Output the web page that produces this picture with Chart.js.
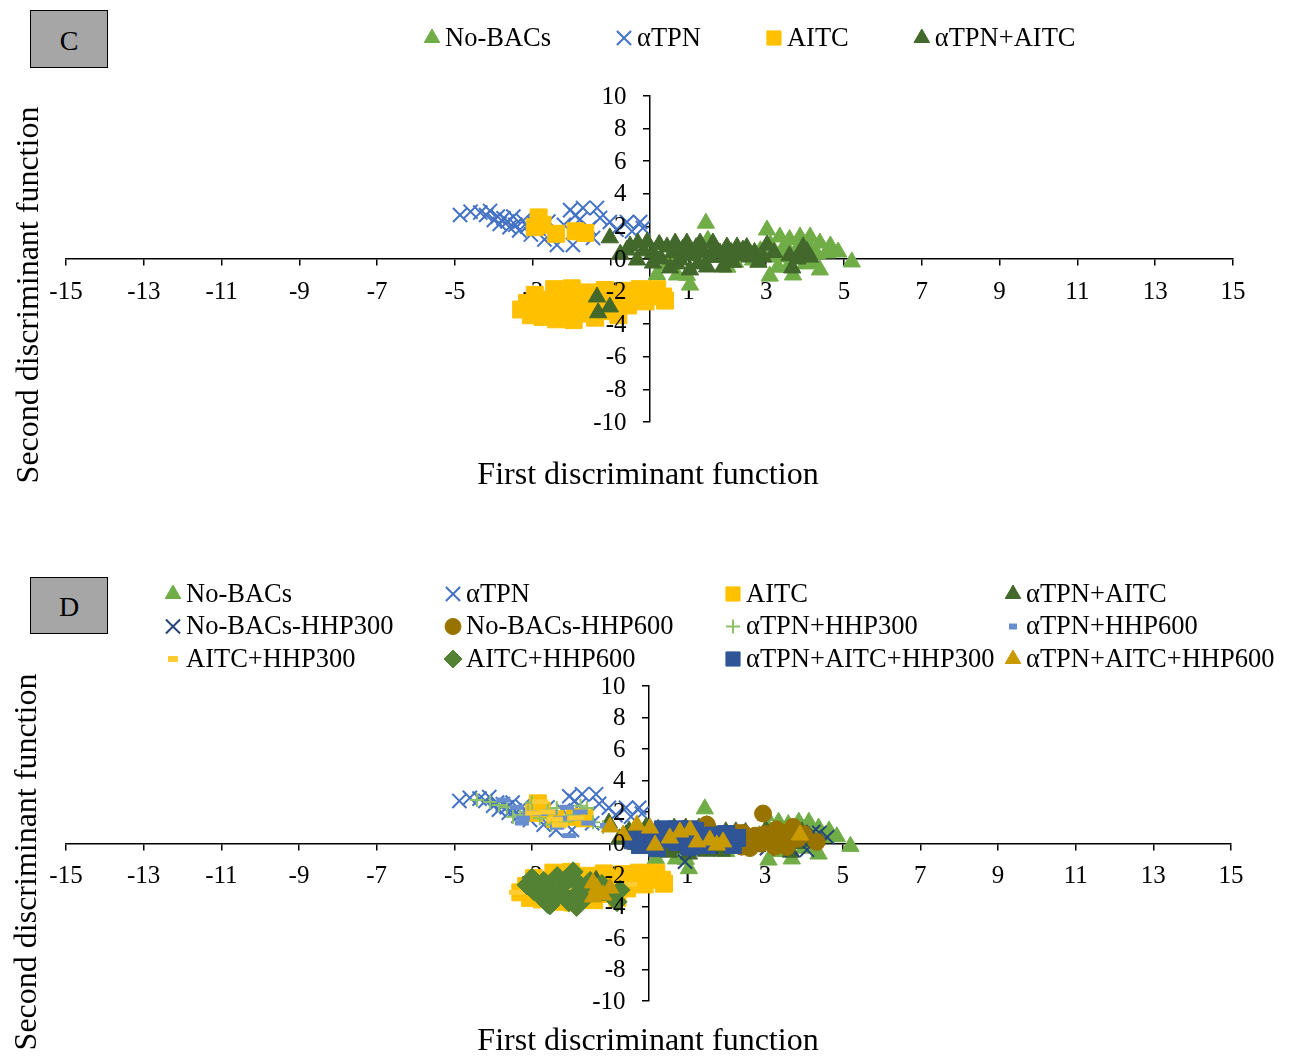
<!DOCTYPE html>
<html>
<head>
<meta charset="utf-8">
<script src="https://cdn.jsdelivr.net/npm/chart.js"></script>
<style>
  body { margin: 0; background: #fff; }
  .wrap { position: relative; width: 1293px; height: 1057px; }
  canvas { position: absolute; left: 0; }
  .tag {
    position: absolute; background: #a6a6a6; border: 1px solid #000;
    font: 28px "Liberation Serif", "Times New Roman", serif;
    display: flex; align-items: center; justify-content: center; box-sizing: border-box;
    padding-top: 3px;
  }
</style>
</head>
<body>
<div class="wrap">
  <canvas id="chartC" width="1293" height="528" style="top:0"></canvas>
  <canvas id="chartD" width="1293" height="529" style="top:528px"></canvas>
  <div class="tag" style="left:30px;top:10px;width:78px;height:58px">C</div>
  <div class="tag" style="left:30px;top:577px;width:78px;height:57px">D</div>
</div>
<script>
const SERIF = '"Liberation Serif", "Times New Roman", serif';

// axis ticks
const xTicks = [-15, -13, -11, -9, -7, -5, -3, -1, 1, 3, 5, 7, 9, 11, 13, 15];
const yTicks = [-10, -8, -6, -4, -2, 0, 2, 4, 6, 8, 10];

// discriminant scores: [first function, second function]
const noBacs = [
  [0.19, -0.95], [0.45, -0.4], [0.71, -0.98], [0.96, -1.0], [1.04, -1.6], [1.2, 0.3], [1.45, 2.2],
  [1.5, 1.15], [1.7, 0.5], [1.99, 0.25], [2.2, -0.2], [2.4, 0.4], [2.66, -0.06], [2.85, 0.5],
  [3.02, 1.78], [3.09, -1.05], [3.15, 0.6], [3.28, 0.12], [3.35, 1.35], [3.5, 0.8], [3.56, -0.49],
  [3.69, -0.98], [3.75, 0.4], [3.87, 1.35], [3.95, 0.1], [4.1, 0.8], [4.13, 1.35], [4.2, -0.25],
  [4.38, 0.98], [4.38, -0.67], [4.56, 0.37], [4.85, 0.43], [5.2, -0.18], [2.0, -0.5], [0.6, 0.2],
  [3.3, -0.5], [4.0, -0.3], [3.4, 0.5], [3.6, 1.2], [3.8, 0.6], [4.3, 0.3], [4.65, 0.8],
  [4.0, 0.9], [2.6, 0.3], [3.1, 0.9], [1.3, 0.6], [0.9, 0.3]
];
const aTpn = [
  [-4.87, 2.7], [-4.6, 2.9], [-4.35, 2.85], [-4.2, 2.7], [-4.1, 2.95], [-4.0, 2.4], [-3.9, 2.6],
  [-3.85, 2.15], [-3.75, 2.5], [-3.65, 2.3], [-3.6, 1.95], [-3.5, 2.6], [-3.45, 2.1], [-3.35, 1.75],
  [-3.25, 2.35], [-3.15, 2.0], [-3.05, 1.5], [-2.95, 2.2], [-2.85, 1.85], [-2.7, 1.2], [-2.6, 2.3],
  [-2.45, 1.6], [-2.38, 0.86], [-2.2, 2.1], [-2.04, 3.0], [-1.97, 0.86], [-1.9, 2.7], [-1.8, 2.4],
  [-1.71, 3.13], [-1.65, 1.65], [-1.55, 1.9], [-1.45, 1.29], [-1.35, 3.13], [-1.27, 2.52],
  [-1.02, 2.27], [-0.85, 1.8], [-0.58, 2.27], [-0.45, 1.7], [-0.24, 2.27], [-0.17, 1.9]
];
const aitc = [
  [-2.85, 2.55], [-2.95, 1.95], [-2.75, 2.1], [-2.4, 1.55], [-1.9, 1.7], [-1.65, 1.6],
  [-3.3, -3.1], [-3.15, -2.7], [-3.05, -3.45], [-2.95, -2.2], [-2.85, -2.9], [-2.75, -3.55],
  [-2.65, -2.5], [-2.55, -3.1], [-2.45, -1.85], [-2.4, -3.7], [-2.3, -2.75], [-2.2, -2.2],
  [-2.1, -3.25], [-2.0, -1.8], [-1.95, -3.75], [-1.85, -2.6], [-1.75, -3.35], [-1.6, -2.05],
  [-1.5, -3.0], [-1.4, -3.6], [-1.3, -2.45], [-1.15, -1.9], [-1.1, -3.2], [-0.95, -2.7],
  [-0.85, -2.15], [-0.8, -3.45], [-0.65, -1.95], [-0.55, -2.85], [-0.4, -2.35], [-0.25, -1.85],
  [-0.1, -2.6], [0.05, -2.1], [0.2, -1.85], [0.35, -2.3], [0.4, -2.55], [-2.9, -2.6],
  [-1.2, -2.9], [-2.6, -3.4]
];
const aTpnAitc = [
  [-1.02, 1.3], [-0.58, 0.55], [-0.32, -0.06], [-0.3, 0.98], [-0.06, 1.04], [0.09, 0.37],
  [0.09, -0.25], [0.45, 0.74], [0.53, -0.55], [0.66, 0.98], [0.78, -0.06], [0.96, 0.98],
  [1.04, -0.67], [1.12, 0.37], [1.3, 0.98], [1.48, -0.49], [1.63, 0.98], [1.81, 0.37],
  [1.89, -0.49], [1.99, 0.74], [2.25, 0.74], [2.4, 0.55], [2.58, 0.12], [2.92, 0.12],
  [3.02, 0.86], [3.67, -0.55], [3.87, 0.37], [3.95, 0.74], [4.13, 0.12],
  [-0.75, 0.3], [-0.5, 0.8], [-0.15, 0.5], [0.25, 0.9], [0.3, 0.0], [0.6, 0.4], [0.85, 0.6],
  [1.0, 0.2], [1.2, 0.7], [1.4, 0.4], [1.55, 0.1], [1.7, 0.6], [1.95, 0.1], [2.1, 0.4],
  [2.3, 0.2], [2.5, 0.7], [2.7, 0.4], [2.8, -0.2], [3.2, 0.4], [3.8, 0.0], [4.05, 0.45],
  [3.6, 0.2], [0.7, -0.3], [1.25, -0.3], [2.15, -0.2],
  [-1.35, -2.33], [-1.02, -2.94], [-1.32, -3.3]
];
const noBacsHhp300 = [
  [0.94, -1.15], [1.6, -0.2], [2.3, -0.1], [2.7, 0.2], [3.05, -0.3], [3.5, 0.1], [3.7, -0.4],
  [3.9, 0.3], [4.08, -0.4], [4.24, 0.73], [4.4, 0.67], [4.6, 0.4]
];
const noBacsHhp600 = [
  [2.95, 1.9], [4.33, 0.1], [1.5, 1.2], [2.28, 0.67], [2.43, 0.67], [2.4, -0.2], [2.61, -0.29],
  [2.75, 0.5], [2.9, 0.0], [3.1, 0.3], [3.25, -0.2], [3.39, 0.41], [3.56, -0.22], [3.72, 1.05],
  [3.85, 0.3], [4.0, 0.6], [3.3, 0.9], [1.9, 0.4], [1.2, 0.3], [0.5, 0.5], [2.6, 0.2],
  [3.0, 0.6], [3.5, 0.6], [2.2, 0.0]
];
const aTpnHhp300 = [
  [-4.42, 2.76], [-4.08, 2.63], [-3.85, 2.45], [-3.65, 2.3], [-3.49, 1.7], [-3.31, 1.8],
  [-3.1, 2.0], [-3.0, 2.6], [-2.8, 1.6], [-2.6, 2.1], [-2.5, 1.2], [-2.36, 2.25], [-2.15, 1.4],
  [-1.94, 1.8], [-1.75, 2.4], [-1.58, 2.25], [-1.43, 1.35], [-1.17, 1.05]
];
const aTpnHhp600 = [
  [-3.74, 2.76], [-3.39, 2.3], [-3.26, 1.3], [-3.23, 1.6], [-3.05, 1.95], [-2.8, 1.9],
  [-2.54, 2.0], [-2.36, 1.03], [-2.28, 1.6], [-2.1, 2.3], [-2.04, 0.5], [-1.84, 1.6],
  [-1.76, 2.0], [-1.55, 1.3], [-1.07, 1.15]
];
const aitcHhp300 = [
  [-2.79, 2.65], [-2.97, 1.94], [-2.6, 2.0], [-2.41, 1.55], [-2.28, 1.17], [-1.85, 1.62],
  [-3.39, -3.1], [-2.9, -2.3], [-2.0, -3.0], [-0.5, -2.6]
];
const aitcHhp600 = [
  [-3.13, -2.63], [-3.0, -2.2], [-2.95, -3.0], [-2.8, -3.3], [-2.7, -2.4], [-2.6, -3.8],
  [-2.55, -2.9], [-2.54, -3.9], [-2.45, -3.6], [-2.35, -2.1], [-2.25, -3.1], [-2.15, -2.5],
  [-2.05, -3.7], [-1.94, -1.8], [-1.95, -2.2], [-1.85, -3.2], [-1.85, -4.0], [-1.75, -2.7],
  [-1.65, -3.5], [-1.5, -2.4], [-1.35, -3.0], [-1.2, -2.6], [-1.0, -3.2], [-0.81, -3.7],
  [-0.73, -2.95]
];
const aTpnAitcHhp300 = [
  [-0.4, 0.2], [-0.22, -0.1], [-0.1, 0.5], [0.1, 0.0], [0.22, -0.29], [0.37, 0.9], [0.4, 0.3],
  [0.73, 0.9], [0.75, 0.1], [0.9, 0.6], [1.05, -0.2], [1.07, 0.9], [1.2, 0.8], [1.35, 0.3],
  [1.5, -0.1], [1.65, 0.5], [1.8, 0.2], [2.0, 0.6], [2.17, -0.1], [2.28, 0.35]
];
const aTpnAitcHhp600 = [
  [-0.99, 1.05], [-0.65, 0.54], [-0.3, 1.17], [0.04, 0.98], [0.17, -0.1], [0.55, 0.35],
  [0.81, 0.73], [1.07, 0.86], [1.25, 0.1], [1.58, 0.22], [1.76, -0.1], [1.92, 0.1], [3.9, 0.54],
  [-1.43, -2.5], [-1.33, -2.83], [-0.99, -2.83], [-1.17, -3.27], [-1.43, -3.4]
];

// marker look of each treatment
const series = [
  { label: 'No-BACs', data: noBacs, style: 'triangle', color: '#70ad47', r: 10, bw: 1, lr: 9 },
  { label: 'αTPN', data: aTpn, style: 'crossRot', color: '#4472c4', r: 10, bw: 2, lr: 10 },
  { label: 'AITC', data: aitc, style: 'rect', color: '#ffc000', r: 12, bw: 1, lr: 10 },
  { label: 'αTPN+AITC', data: aTpnAitc, style: 'triangle', color: '#43682b', r: 10, bw: 1, lr: 9 },
  { label: 'No-BACs-HHP300', data: noBacsHhp300, style: 'crossRot', color: '#264478', r: 10, bw: 2, lr: 10 },
  { label: 'No-BACs-HHP600', data: noBacsHhp600, style: 'circle', color: '#997300', r: 8.5, bw: 1, lr: 8 },
  { label: 'αTPN+HHP300', data: aTpnHhp300, style: 'cross', color: '#8cc168', r: 7, bw: 2, lr: 7 },
  { label: 'αTPN+HHP600', data: aTpnHhp600, style: 'line', color: '#698ed0', r: 7, bw: 5, lr: 4 },
  { label: 'AITC+HHP300', data: aitcHhp300, style: 'line', color: '#ffcd33', r: 8, bw: 5, lr: 5 },
  { label: 'AITC+HHP600', data: aitcHhp600, style: 'rectRot', color: '#548235', r: 10, bw: 1, lr: 9 },
  { label: 'αTPN+AITC+HHP300', data: aTpnAitcHhp300, style: 'rect', color: '#2f5597', r: 12, bw: 1, lr: 10 },
  { label: 'αTPN+AITC+HHP600', data: aTpnAitcHhp600, style: 'triangle', color: '#c99a00', r: 10, bw: 1, lr: 9 }
];

function toDatasets(list) {
  return list.map((s, i) => ({
    label: s.label,
    data: s.data.map(p => ({ x: p[0], y: p[1] })),
    pointStyle: s.style,
    pointRadius: s.r,
    pointHoverRadius: s.r,
    pointBorderWidth: s.bw,
    backgroundColor: s.color,
    borderColor: s.color,
    showLine: false,
    order: -i   // later series on top
  }));
}

// y tick labels, axis titles and legend rows drawn straight on the canvas
const panelText = {
  id: 'panelText',
  afterDraw(chart, args, o) {
    const ctx = chart.ctx;
    const xs = chart.scales.x, ys = chart.scales.y;
    ctx.save();
    ctx.fillStyle = '#000';

    // labels of the centred y axis sit left of its tick marks
    ctx.font = '25px ' + SERIF;
    ctx.textAlign = 'right';
    ctx.textBaseline = 'middle';
    const x0 = xs.getPixelForValue(0);
    yTicks.forEach(v => ctx.fillText(String(v), x0 - 23, ys.getPixelForValue(v) + 1));

    ctx.font = '32px ' + SERIF;
    ctx.textAlign = 'center';
    ctx.fillText('First discriminant function', o.xTitle[0], o.xTitle[1]);
    ctx.save();
    ctx.translate(o.yTitle[0], o.yTitle[1]);
    ctx.rotate(-Math.PI / 2);
    ctx.fillText('Second discriminant function', 0, 0);
    ctx.restore();

    ctx.font = '26.5px ' + SERIF;
    ctx.textAlign = 'left';
    let px = o.legend.x;
    o.items.forEach((s, i) => {
      let x, y;
      if (o.legend.cols) {
        x = o.legend.x + (i % o.legend.cols) * o.legend.colStep;
        y = o.legend.y + Math.floor(i / o.legend.cols) * o.legend.rowStep;
      } else {
        x = px;
        y = o.legend.y;
      }
      ctx.fillStyle = s.color;
      ctx.strokeStyle = s.color;
      ctx.lineWidth = s.style === 'line' ? 6 : s.bw;
      Chart.helpers.drawPoint(ctx, { pointStyle: s.style, radius: s.lr, borderWidth: ctx.lineWidth, rotation: 0 }, x + 8, y);
      ctx.fillStyle = '#000';
      ctx.fillText(s.label, x + 21, y + 1);
      px = x + 21 + ctx.measureText(s.label).width + 65;
    });
    ctx.restore();
  }
};

function axes() {
  const tickFont = { family: SERIF, size: 25 };
  const common = {
    type: 'linear',
    grid: { drawOnChartArea: false, drawTicks: true, tickLength: 6, color: '#000', lineWidth: 1.5 },
    border: { color: '#000', width: 1.5 },
    z: 1
  };
  return {
    x: Object.assign({}, common, {
      min: -15, max: 15, position: { y: 0 },
      afterBuildTicks: ax => { ax.ticks = xTicks.map(v => ({ value: v })); },
      ticks: { font: tickFont, color: '#000', padding: 12, autoSkip: false, maxRotation: 0 }
    }),
    y: Object.assign({}, common, {
      min: -10, max: 10, position: { x: 0 },
      afterBuildTicks: ax => { ax.ticks = yTicks.map(v => ({ value: v })); },
      ticks: { display: false }
    })
  };
}

function makeChart(id, list, pad, opts) {
  return new Chart(document.getElementById(id), {
    type: 'scatter',
    data: { datasets: toDatasets(list) },
    options: {
      responsive: false,
      animation: false,
      layout: { padding: pad },
      scales: axes(),
      plugins: {
        legend: { display: false },
        tooltip: { enabled: false },
        panelText: Object.assign({ items: list }, opts)
      }
    },
    plugins: [panelText]
  });
}

makeChart('chartC', series.slice(0, 4),
  { left: 66, right: 60, top: 96, bottom: 106 },
  { xTitle: [648, 476], yTitle: [30, 295], legend: { x: 424, y: 38 } });

makeChart('chartD', series,
  { left: 66, right: 62, top: 158, bottom: 56 },
  { xTitle: [648, 514], yTitle: [28, 334],
    legend: { x: 165, y: 66, cols: 4, colStep: 280, rowStep: 32.5 } });
</script>
</body>
</html>
